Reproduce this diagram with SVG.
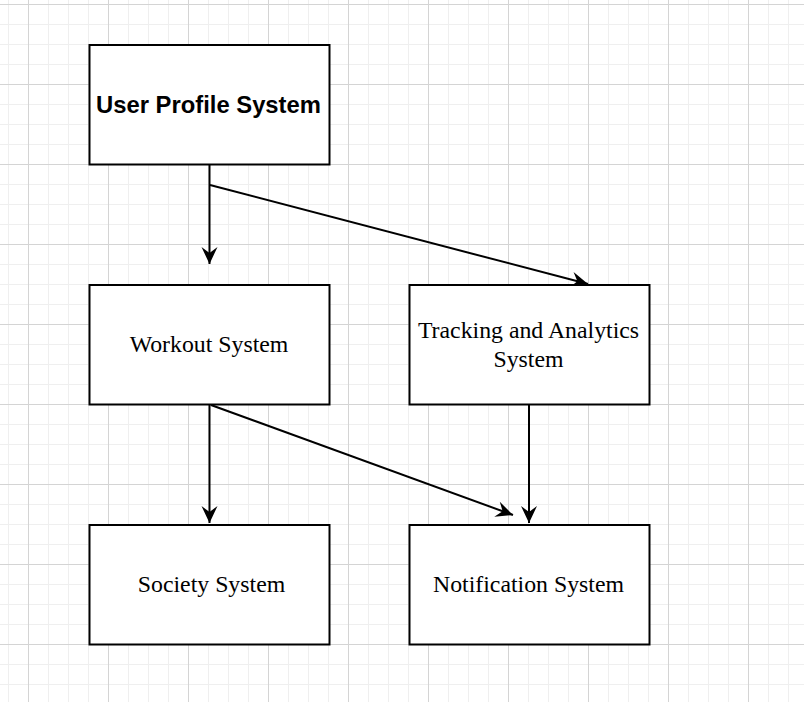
<svg xmlns="http://www.w3.org/2000/svg" width="804" height="702" viewBox="0 0 804 702">
  <defs>
    <pattern id="minor" patternUnits="userSpaceOnUse" x="8" y="4" width="20" height="20">
      <path d="M0.5 0V20M0 0.5H20" stroke="#efefef" stroke-width="1" fill="none"/>
    </pattern>
    <pattern id="major" patternUnits="userSpaceOnUse" x="28" y="4" width="80" height="80">
      <path d="M0.5 0V80M0 0.5H80" stroke="#d4d4d4" stroke-width="1" fill="none"/>
    </pattern>
    <marker id="arr" viewBox="-18 -9 19 18" markerWidth="19" markerHeight="18" refX="0" refY="0" orient="auto" markerUnits="userSpaceOnUse">
      <path d="M0,0 L-17,-8 L-11,0 L-17,8 Z" fill="#000"/>
    </marker>
  </defs>
  <style>
    .box { fill: #fff; stroke: #000; stroke-width: 2; }
    .lbl { font-family: "Liberation Serif", "Times New Roman", serif; font-size: 23.8px; fill: #000; text-anchor: middle; }
    .bold { font-family: "Liberation Sans", Arial, sans-serif; font-size: 23.8px; font-weight: bold; fill: #000; text-anchor: middle; }
    .edge { stroke: #000; stroke-width: 2; fill: none; marker-end: url(#arr); }
  </style>
  <rect width="804" height="702" fill="#fff"/>
  <rect width="804" height="702" fill="url(#minor)"/>
  <rect width="804" height="702" fill="url(#major)"/>

  <g id="connectors">
    <path class="edge" d="M209.5 165V264"/>
    <path class="edge" d="M210 185L588 284"/>
    <path class="edge" d="M209.5 405V523"/>
    <path class="edge" d="M211 405L513 515"/>
    <path class="edge" d="M529 405V523"/>
  </g>

  <g id="user-profile">
    <rect class="box" x="89.5" y="45" width="240" height="119.5"/>
    <text class="bold" x="208.5" y="112.5">User Profile System</text>
  </g>
  <g id="workout">
    <rect class="box" x="89.5" y="285" width="240" height="119.5"/>
    <text class="lbl" x="209" y="352">Workout System</text>
  </g>
  <g id="tracking">
    <rect class="box" x="409.5" y="285" width="240" height="119.5"/>
    <text class="lbl" x="528.5" y="338">Tracking and Analytics</text>
    <text class="lbl" x="528.5" y="366.5">System</text>
  </g>
  <g id="society">
    <rect class="box" x="89.5" y="525" width="240" height="119.5"/>
    <text class="lbl" x="211.5" y="592">Society System</text>
  </g>
  <g id="notification">
    <rect class="box" x="409.5" y="525" width="240" height="119.5"/>
    <text class="lbl" x="528.5" y="592">Notification System</text>
  </g>
</svg>
